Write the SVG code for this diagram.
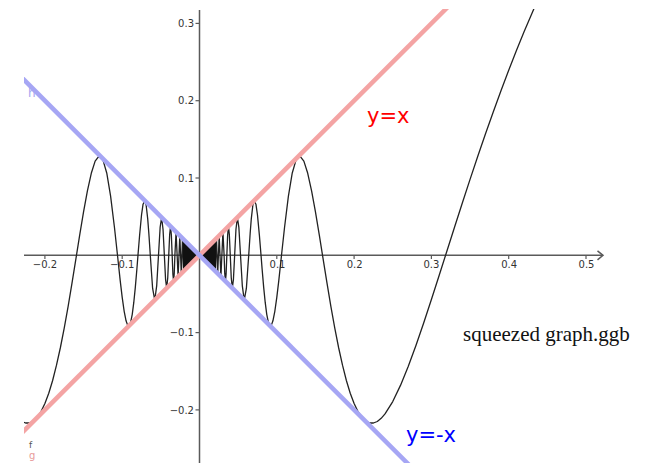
<svg xmlns="http://www.w3.org/2000/svg" xmlns:xlink="http://www.w3.org/1999/xlink" width="646" height="463" viewBox="0 0 646 463">
<style>
.axis{stroke:#5a5a5a;stroke-width:1.5;fill:none}
.tick{stroke:#5a5a5a;stroke-width:1.2}
.tl{font-family:"DejaVu Sans",sans-serif;font-size:10px;fill:#333}
.curve{stroke:#222;stroke-width:1.3;fill:none;stroke-linejoin:round}
.lab{font-family:"DejaVu Sans",sans-serif;font-size:21px}
</style>
<defs>
<clipPath id="view"><rect x="24" y="9" width="622" height="454"/></clipPath>
<path id="fpos" class="curve" d="M539.62,-4.43 L531.89,13.43 524.16,31.52 516.43,50.53 508.70,70.24 500.97,90.73 493.24,111.91 485.51,133.78 477.78,156.28 470.05,179.39 462.32,202.97 454.59,226.93 446.86,251.20 439.13,275.46 431.40,299.52 423.67,322.96 415.94,345.51 408.21,366.54 400.48,385.40 392.75,401.55 385.02,413.92 381.16,418.33 377.29,421.50 373.43,423.00 369.56,422.99 365.70,421.18 361.83,417.40 357.97,411.60 354.10,403.56 350.24,393.28 346.37,380.53 342.51,365.14 338.64,347.75 334.78,328.19 330.91,306.63 327.05,283.44 323.18,259.40 319.32,235.2 315.45,211.93 311.59,190.77 307.72,173.29 303.86,161.15 299.99,156.12 296.13,159.68 292.26,172.98 288.40,196.09 284.53,227.47 281.51,255.3 278.73,281.08 276.80,297.35 274.87,311.03 272.94,320.77 271.39,325.10 269.77,325.57 268.30,322.16 266.75,314.36 265.21,302.45 263.66,287.07 262.11,269.0 261.03,255.3 259.41,235.51 257.48,215.03 255.93,204.20 254.15,200.65 252.84,205.29 251.29,218.81 250.13,233.7 248.71,255.3 246.37,288.44 244.24,300.04 242.29,285.56 240.51,255.3 238.87,227.46 237.35,217.45 235.95,229.53 234.65,255.3 233.44,279.30 232.31,288.11 231.25,277.75 230.26,255.3 229.32,234.21 228.45,226.35 227.62,235.42 226.84,255.3 226.10,274.11 225.40,281.20 224.74,273.15 224.11,255.3 222.93,231.87 221.87,255.3 220.90,276.70 220.00,255.3 219.18,235.62 218.43,255.3 217.73,273.53 217.08,255.3 216.47,238.33 215.90,255.3 215.37,271.17 214.88,255.3 214.41,240.39 213.97,255.3 213.56,269.36 213.17,255.3 212.80,242.00 212.45,255.3 212.12,267.92 211.80,255.3 211.50,243.30 211.22,255.3 210.94,266.74 210.68,255.3 210.44,244.36 210.20,255.3 209.97,265.77 209.75,255.3 209.54,245.26 209.34,255.3 199.5,255.3"/>
</defs>
<rect width="646" height="463" fill="#fff"/>
<g id="axes">
<line class="axis" x1="24" y1="255.3" x2="603" y2="255.3"/>
<polyline class="axis" points="597.5,250.8 603,255.3 597.5,259.8"/>
<line class="axis" x1="199.5" y1="10" x2="199.5" y2="463"/>
<g class="tick">
<line x1="44.9" y1="255.3" x2="44.9" y2="259"/>
<line x1="122.2" y1="255.3" x2="122.2" y2="259"/>
<line x1="276.8" y1="255.3" x2="276.8" y2="259"/>
<line x1="354.1" y1="255.3" x2="354.1" y2="259"/>
<line x1="431.4" y1="255.3" x2="431.4" y2="259"/>
<line x1="508.7" y1="255.3" x2="508.7" y2="259"/>
<line x1="586" y1="255.3" x2="586" y2="259"/>
<line x1="195.5" y1="23.4" x2="199.5" y2="23.4"/>
<line x1="195.5" y1="100.7" x2="199.5" y2="100.7"/>
<line x1="195.5" y1="178" x2="199.5" y2="178"/>
<line x1="195.5" y1="332.6" x2="199.5" y2="332.6"/>
<line x1="195.5" y1="409.9" x2="199.5" y2="409.9"/>
</g>
<g class="tl" text-anchor="middle">
<text x="44.9" y="268">−0.2</text>
<text x="122.2" y="268">−0.1</text>
<text x="277.5" y="268">0.1</text>
<text x="354.6" y="268">0.2</text>
<text x="431.4" y="268">0.3</text>
<text x="509.2" y="268">0.4</text>
<text x="586.5" y="268">0.5</text>
</g>
<g class="tl" text-anchor="end">
<text x="194" y="27">0.3</text>
<text x="194" y="104.3">0.2</text>
<text x="194" y="181.6">0.1</text>
<text x="194" y="336.2">−0.1</text>
<text x="194" y="413.5">−0.2</text>
</g>
</g>
<g id="curve-f" clip-path="url(#view)">
<use xlink:href="#fpos" href="#fpos"/>
<use xlink:href="#fpos" href="#fpos" transform="matrix(-1 0 0 1 399 0)"/>
<polygon points="199.5,255.3 216,238.8 216,271.8 199.5,255.3 183,238.8 183,271.8" fill="#111"/>
</g>
<g id="line-yx" clip-path="url(#view)">
<line x1="0" y1="454.8" x2="470" y2="-15.2" stroke="#f4a4a4" stroke-width="4.5"/>
</g>
<g id="line-ymx" clip-path="url(#view)">
<line x1="0" y1="55.8" x2="420" y2="475.8" stroke="#a6a6f4" stroke-width="4.5"/>
</g>
<g id="labels">
<text class="lab" x="367" y="123" fill="#ff0000">y=x</text>
<text class="lab" x="406" y="442" fill="#0000ff">y=-x</text>
<text x="463" y="341" font-family="'Liberation Serif',serif" font-size="21" fill="#111">squeezed graph.ggb</text>
<text x="28" y="97" font-family="'DejaVu Sans',sans-serif" font-size="12" fill="#a6a6f0">h</text>
<text x="29" y="448" font-family="'DejaVu Sans',sans-serif" font-size="9" fill="#555">f</text>
<text x="29" y="459" font-family="'DejaVu Sans',sans-serif" font-size="10" fill="#e89a9a">g</text>
</g>
</svg>
